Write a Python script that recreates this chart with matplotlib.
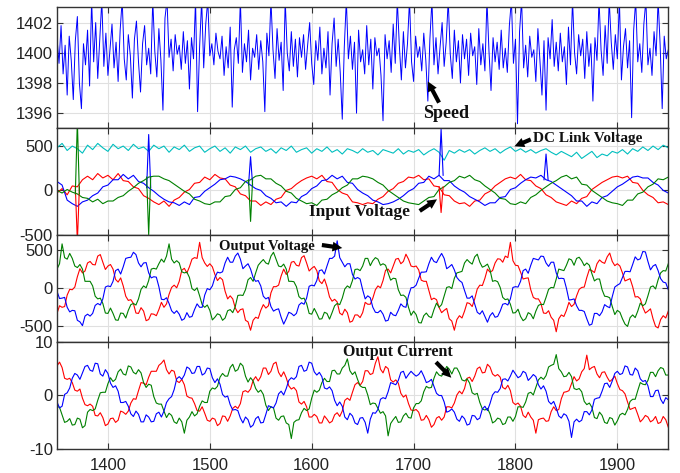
import numpy as np
import matplotlib.pyplot as plt

# ---------------- data ----------------
T0, STEP_SPEED, STEP_IN, STEP_OUT = 1350, 2, 5, 2.5

speed = [1401.0, 1399.3, 1401.8, 1398.6, 1400.5, 1397.2, 1401.1, 1399.5, 1396.9, 1400.8, 1402.4, 1398.0, 1396.3, 1400.6, 1399.2, 1401.5, 1397.8, 1403.5, 1399.4, 1402.0,
         1398.3, 1400.9, 1403.5, 1399.1, 1401.3, 1398.5, 1400.2, 1401.9, 1399.0, 1400.7, 1398.1, 1401.5, 1403.5, 1399.6, 1398.2, 1401.2, 1399.8, 1397.0, 1400.9, 1402.1,
         1399.4, 1397.4, 1400.6, 1401.8, 1399.2, 1400.3, 1398.6, 1403.5, 1400.1, 1398.4, 1401.6, 1399.5, 1396.2, 1402.3, 1403.5, 1399.7, 1400.9, 1398.8, 1401.2, 1399.9,
         1400.5, 1398.9, 1401.4, 1399.3, 1400.8, 1397.6, 1401.0, 1399.6, 1403.5, 1396.1, 1400.4, 1403.5, 1399.0, 1401.9, 1403.5, 1399.8, 1400.6, 1399.2, 1401.3, 1400.1,
         1399.6, 1401.1, 1398.5, 1400.4, 1399.0, 1401.7, 1396.4, 1400.2, 1401.0, 1399.3, 1403.5, 1398.7, 1400.6, 1399.4, 1401.5, 1398.2, 1400.3, 1399.7, 1401.2, 1398.9,
         1400.8, 1399.4, 1396.1, 1401.3, 1399.8, 1403.5, 1400.2, 1398.3, 1401.6, 1399.5, 1400.7, 1397.5, 1403.5, 1400.0, 1398.8, 1401.4, 1399.1, 1400.9, 1398.4, 1401.0,
         1399.7, 1401.2, 1398.9, 1400.5, 1402.0, 1399.3, 1397.9, 1400.8, 1399.5, 1401.7, 1398.6, 1400.3, 1399.0, 1401.4, 1397.2, 1400.6, 1402.3, 1399.1, 1400.9, 1398.7,
         1395.6, 1400.4, 1403.5, 1399.6, 1401.1, 1398.9, 1400.7, 1396.0, 1401.5, 1399.4, 1400.2, 1398.6, 1401.8, 1399.2, 1400.9, 1397.6, 1401.0, 1399.8, 1400.3, 1398.5,
         1395.5, 1401.2, 1399.6, 1400.8, 1398.7, 1401.9, 1399.3, 1403.5, 1400.5, 1398.2, 1401.4, 1399.0, 1400.6, 1403.5, 1399.4, 1398.1, 1401.1, 1399.7, 1400.4, 1398.8,
         1401.3, 1399.5, 1396.8, 1400.9, 1403.5, 1399.2, 1401.0, 1398.6, 1400.4, 1402.0, 1399.1, 1400.7, 1403.5, 1399.9, 1398.3, 1401.5, 1399.4, 1400.8, 1398.0, 1401.2,
         1399.6, 1400.9, 1398.5, 1401.3, 1399.8, 1400.4, 1397.9, 1401.6, 1399.2, 1400.6, 1398.8, 1403.5, 1400.1, 1397.5, 1401.0, 1399.4, 1400.7, 1398.9, 1401.5, 1399.0,
         1400.3, 1398.7, 1401.8, 1403.5, 1399.3, 1400.9, 1395.3, 1401.4, 1403.5, 1399.0, 1400.5, 1398.4, 1401.1, 1399.7, 1400.2, 1398.1, 1401.6, 1399.5, 1397.2, 1400.8,
         1396.2, 1401.0, 1399.6, 1402.2, 1399.1, 1400.7, 1398.8, 1401.3, 1399.4, 1400.4, 1397.9, 1401.7, 1399.2, 1403.5, 1400.0, 1398.6, 1401.2, 1399.8, 1400.9, 1398.3,
         1401.4, 1399.1, 1400.6, 1396.8, 1401.0, 1399.5, 1403.5, 1400.2, 1398.5, 1401.8, 1399.3, 1403.5, 1400.7, 1398.9, 1401.2, 1399.6, 1403.5, 1398.2, 1400.4, 1401.6,
         1399.0, 1400.8, 1395.7, 1401.5, 1403.5, 1399.4, 1400.6, 1398.7, 1401.9, 1403.5, 1399.2, 1400.3, 1398.5, 1401.4, 1399.8, 1403.5, 1400.5, 1396.3, 1401.1, 1399.6,
         1400.2]

dc_link = [480, 530, 450, 500, 470, 420, 510, 460, 530, 480, 440, 520, 470, 500, 450, 520, 470, 490, 440, 510,
           470, 500, 430, 490, 460, 510, 440, 480, 500, 430, 470, 500, 440, 480, 420, 490, 460, 500, 430, 470,
           490, 440, 470, 420, 480, 450, 500, 430, 460, 480, 420, 470, 440, 490, 430, 460, 410, 470, 450, 420,
           470, 430, 450, 400, 460, 440, 420, 470, 410, 450, 430, 460, 400, 440, 470, 430, 340, 450, 420, 460,
           430, 460, 410, 450, 480, 440, 470, 420, 460, 490, 440, 470, 430, 460, 420, 450, 470, 430, 400, 440,
           410, 380, 430, 360, 400, 440, 370, 410, 390, 440, 420, 460, 410, 470, 440, 490, 450, 500, 460, 510,
           480]

vin_a = [-30, 20, -50, 50, 40, 120, 160, 120, 190, 140, 170, 120, 190, 110, 100, 40, 20, -60, -90, -130,
         -160, -120, -180, -110, -80, -20, 10, 80, 90, 150, 120, 180, 140, 130, 60, 40, -40, -60, -120, -120,
         -170, -130, -160, -100, -80, 0, 20, 70, 110, 140, 160, 130, 170, 100, 90, 10, -30, -50, -130, -140,
         -160, -140, -150, -100, -70, -10, 20, 80, 100, 150, 140, 170, 120, 130, 50, 40, -50, -60, -120, -150,
         -140, -180, -120, -110, -40, -10, 50, 90, 130, 150, 130, 180, 120, 110, 50, 20, -50, -80, -130, -150,
         -170, -120, -150, -90, -70, 10, 50, 90, 120, 150, 160, 140, 160, 90, 80, 0, -50, -80, -140, -130,
         -160]
vin_b = [100, 60, -110, -150, -180, -130, -110, -60, -30, 40, 60, 120, 120, 180, 130, 170, 100, 80, 30, -10,
         -60, -100, -130, -140, -170, -130, -160, -80, -70, -10, 30, 70, 120, 130, 160, 150, 130, 100, 60, 20,
         0, -60, -90, -140, -130, -180, -130, -140, -70, -40, 20, 50, 110, 120, 170, 130, 160, 90, 80, 10,
         -30, -60, -110, -130, -160, -150, -130, -100, -60, -10, 20, 80, 90, 160, 130, 170, 110, 110, 50, 10,
         -20, -70, -100, -130, -170, -140, -140, -80, -70, 10, 30, 80, 120, 150, 140, 170, 120, 100, 60, 20,
         -20, -60, -120, -120, -180, -130, -150, -80, -60, -10, 40, 70, 110, 150, 160, 140, 140, 90, 60, 0,
         -30]
vin_c = [0, -30, 10, -20, -40, -80, -90, -130, -100, -150, -120, -120, -80, -60, -10, 30, 80, 110, 150, 160,
         160, 130, 110, 70, 30, -10, -40, -100, -120, -150, -160, -130, -130, -70, -60, 10, 30, 100, 120, 160,
         170, 130, 130, 80, 50, -10, -30, -90, -120, -150, -140, -170, -110, -100, -50, -20, 30, 60, 130, 130,
         160, 150, 130, 90, 60, 0, -40, -80, -120, -140, -150, -160, -120, -80, -70, 10, 40, 90, 110, 160,
         140, 170, 120, 100, 50, 10, -30, -90, -100, -150, -160, -130, -150, -80, -50, 0, 40, 80, 110, 150,
         170, 130, 150, 70, 60, 0, -40, -80, -120, -140, -150, -170, -110, -110, -40, -20, 40, 70, 130, 120,
         150]

# narrow transient spikes in the input-voltage panel: time, base level, peak
spike_a_t, spike_a_base, spike_a_peak = [1370, 1727], [40, 40], [-580, -250]
spike_b_t, spike_b_base, spike_b_peak = [1440, 1540, 1727, 1830], [30, 60, 170, 120], [630, 380, 690, 410]
spike_c_t, spike_c_base, spike_c_peak = [1370, 1440, 1540], [-40, 150, 120], [780, -500, -350]

vout_a = [-330, -230, -250, -240, -90, -15, -20, 15, 150, 255, 200, 225, 330, 350, 310, 305, 420, 440, 340, 245, 290, 310, 250, 115, 80, 135, 30, -105, -160, -150, -200, -325, -330, -255, -300, -425, -410, -335, -340, -360,
          -280, -185, -250, -205, -80, 10, 40, 5, 90, 235, 260, 200, 280, 380, 400, 390, 600, 400, 330, 285, 320, 280, 180, 100, 140, 110, -40, -140, -100, -140, -260, -320, -280, -270, -420, -440, -550, -420, -380, -395,
          -290, -215, -260, -230, -60, 20, 20, 40, 160, 250, 180, 220, 340, 350, 300, 290, 400, 425, 330, 225, 260, 285, 230, 95, 60, 120, 20, -115, -170, -145, -180, -325, -350, -275, -320, -445, -430, -350, -350, -385,
          -320, -185, -210, -210, -130, -20, 30, 5, 100, 235, 250, 200, 290, 380, 390, 320, 350, 445, 380, 290, 280, 290, 240, 105, 90, 90, -30, -150, -130, -150, -250, -320, -290, -265, -400, -430, -550, -410, -360, -390,
          -300, -190, -200, -240, -140, -10, 40, 35, 130, 250, 210, 230, 330, 385, 380, 340, 420, 400, 600, 360, 300, 295, 210, 120, 130, 135, -20, -120, -140, -140, -200, -325, -330, -295, -380, -420, -570, -400, -350, -370,
          -290, -185, -240, -210, -100, -15, 10, 15, 140, 245, 230, 205, 320, 370, 340, 325, 410, 460, 350, 295, 320, 290, 200, 95, 110, 125, 20, -115, -110, -140, -250, -325, -300, -270, -400, -500, -520, -410, -360, -390,
          -300]
vout_b = [-40, -135, -130, -120, -250, -310, -290, -295, -420, -440, -490, -365, -340, -365, -330, -225, -200, -220, -140, 15, 30, 20, 90, 230, 250, 185, 280, 390, 400, 405, 470, 440, 330, 280, 330, 335, 200, 135, 150, 145,
          20, -145, -150, -125, -200, -295, -330, -295, -340, -420, -400, -320, -380, -370, -280, -205, -250, -250, -90, -5, -20, 30, 140, 210, 200, 215, 330, 405, 340, 340, 420, 460, 380, 255, 290, 320, 250, 140, 90, 100,
          30, -105, -140, -120, -240, -300, -280, -270, -380, -470, -400, -315, -330, -360, -330, -220, -190, -210, -130, 25, 40, 30, 100, 230, 240, 185, 290, 390, 390, 420, 620, 400, 340, 280, 320, 320, 180, 120, 140, 120,
          -20, -140, -100, -125, -250, -315, -320, -290, -340, -430, -420, -315, -350, -360, -290, -205, -240, -250, -100, 5, 10, 40, 130, 210, 210, 215, 320, 405, 350, 335, 400, 455, 390, 255, 280, 310, 240, 140, 100, 75,
          -30, -130, -130, -100, -210, -315, -340, -295, -370, -445, -360, -320, -380, -370, -300, -210, -200, -220, -140, 10, 20, 15, 90, 230, 250, 195, 300, 390, 380, 370, 420, 415, 330, 285, 340, 340, 200, 125, 130, 125,
          0, -155, -150, -140, -230, -290, -290, -305, -400, -485, -470, -330, -330, -360, -310, -215, -240, -255, -110, 15, 40, 60, 140, 220, 220, 215, 310, 410, 370, 385, 480, 475, 350, 240, 290, 310, 230, 125, 80, 70,
          -20]
vout_c = [250, 320, 580, 400, 380, 455, 390, 290, 270, 310, 250, 90, 90, 90, 30, -105, -140, -130, -200, -325, -330, -260, -330, -415, -420, -325, -330, -390, -290, -215, -200, -220, -140, -15, 30, 5, 100, 250, 260, 250,
          320, 380, 340, 420, 580, 380, 330, 360, 330, 215, 200, 210, 140, -5, -30, 5, -100, -215, -250, -220, -290, -415, -380, -335, -350, -420, -390, -295, -280, -320, -240, -95, -90, -95, -20, 110, 140, 90, 200, 300,
          340, 375, 330, 315, 420, 470, 380, 290, 280, 315, 250, 90, 90, 85, 20, -110, -140, -130, -200, -330, -340, -265, -330, -405, -400, -315, -330, -405, -320, -230, -200, -215, -130, -10, 30, 5, 100, 245, 250, 230,
          290, 390, 390, 295, 360, 400, 380, 300, 320, 300, 200, 105, 130, 125, -20, -95, -90, -120, -250, -355, -300, -345, -450, -455, -360, -325, -370, -385, -280, -195, -250, -215, -100, 10, 20, -5, 130, 200, 210, 220,
          330, 375, 340, 315, 410, 445, 340, 275, 290, 315, 240, 90, 100, 85, 10, -120, -150, -140, -210, -325, -320, -275, -370, -425, -400, -320, -340, -400, -300, -225, -210, -215, -120, -15, 10, 5, 120, 250, 240, 230,
          300, 385, 370, 300, 390, 405, 360, 295, 330, 300, 190, 95, 120, 120, -20, -105, -110, -125, -240, -345, -290, -315, -400, -470, -500, -385, -350, -385, -300, -195, -230, -205, -100, 15, 30, -10, 110, 200, 230, 225,
          320]

iout_a = [5.5, 6.2, 5.2, 3.2, 3.0, 3.2, 2.4, 1.0, 0.8, 1.2, -0.5, -1.7, -1.9, -1.6, -2.0, -3.7, -3.8, -3.2, -4.1, -5.6,
          -5.3, -4.3, -4.2, -5.0, -4.6, -2.9, -3.1, -3.5, -2.9, -1.4, -0.6, -0.7, 0.9, 2.4, 2.3, 2.0, 3.4, 4.5, 4.5, 4.5,
          5.6, 6.0, 6.6, 4.8, 4.0, 4.7, 4.5, 2.7, 2.4, 3.0, 2.0, -0.1, -0.4, -0.5, -1.5, -2.8, -2.9, -2.1, -3.3, -4.6,
          -4.8, -4.2, -4.4, -5.6, -5.2, -3.8, -3.9, -4.8, -3.8, -2.4, -2.0, -2.4, -1.5, 0.7, 0.9, 0.6, 1.2, 2.8, 3.5, 2.7,
          3.5, 5.1, 5.1, 3.9, 4.5, 5.9, 6.2, 4.3, 3.5, 4.4, 3.3, 1.8, 1.2, 1.5, 0.9, -1.2, -1.6, -1.1, -2.1, -4.0,
          -4.0, -3.5, -3.9, -5.1, -5.1, -3.8, -4.4, -5.1, -4.8, -3.6, -3.2, -3.9, -2.9, -0.9, -0.5, -0.9, 0.6, 2.0, 2.4, 1.9,
          2.6, 4.6, 4.6, 3.9, 4.1, 6.0, 7.2, 4.9, 4.2, 5.4, 5.0, 2.9, 2.5, 2.9, 2.3, 0.4, -0.3, 0.1, -1.5, -2.7,
          -2.8, -2.6, -3.1, -4.6, -4.5, -3.7, -4.5, -5.9, -5.4, -4.2, -3.9, -4.6, -4.0, -2.1, -2.1, -2.3, -1.4, 0.1, 0.8, 0.3,
          1.3, 3.2, 3.4, 2.6, 3.6, 5.0, 5.3, 4.2, 4.3, 5.8, 5.3, 4.0, 3.6, 3.9, 3.4, 1.5, 1.2, 1.9, 0.9, -1.3,
          -1.7, -1.4, -2.0, -3.7, -4.1, -3.1, -4.0, -4.6, -7.0, -4.5, -4.3, -4.2, -4.8, -4.7, -3.0, -2.1, -2.8, -2.6, -0.6, 0.6,
          0.7, 0.9, 2.2, 3.5, 2.7, 3.1, 4.4, 5.0, 7.5, 4.8, 5.2, 5.4, 4.0, 3.3, 4.3, 4.4, 3.4, 2.6, 3.0, 3.6,
          2.2, 1.1, 0.9, 0.3, -1.2, -2.6, -2.4, -2.2, -3.5, -4.9, -4.4, -3.7, -4.0, -4.9, -4.6, -3.9, -5.2, -5.0, -3.9, -4.5,
          -5.9]
iout_b = [-1.2, -2.3, -2.0, 0.2, 0.5, 1.4, 3.2, 4.1, 3.8, 3.0, 4.2, 5.4, 5.6, 4.7, 4.5, 6.0, 5.9, 4.0, 3.6, 4.8,
          4.1, 2.3, 1.5, 1.8, 0.8, -1.3, -1.3, -1.1, -2.0, -3.4, -3.9, -2.9, -3.5, -4.9, -4.9, -3.6, -4.0, -4.9, -4.8, -3.4,
          -3.1, -4.0, -2.9, -1.3, -0.6, -0.2, 1.1, 3.1, 3.5, 3.0, 3.8, 5.3, 5.0, 4.1, 4.2, 5.4, 5.4, 3.8, 4.1, 5.1,
          5.0, 3.3, 2.4, 3.1, 2.1, 0.2, -0.3, -0.1, -1.7, -2.7, -2.6, -2.8, -4.2, -5.1, -4.0, -4.5, -5.9, -5.5, -4.3, -3.9,
          -5.1, -5.0, -3.5, -1.9, -2.1, -2.3, -1.4, 0.3, 0.8, 0.1, 1.3, 2.8, 3.3, 3.0, 3.5, 5.4, 5.6, 4.5, 4.7, 6.2,
          6.0, 4.4, 3.8, 4.3, 3.5, 1.4, 1.2, 1.6, 0.9, -0.9, -1.9, -1.2, -2.0, -4.0, -4.5, -3.3, -3.8, -5.1, -5.4, -4.2,
          -4.1, -5.0, -7.0, -4.4, -3.2, -3.3, -2.6, -0.7, -0.4, -0.6, 0.7, 2.4, 2.2, 2.0, 2.8, 4.3, 4.5, 3.2, 3.9, 4.5,
          4.0, 3.6, 3.9, 4.6, 3.6, 2.4, 2.6, 3.0, 1.7, 0.4, 0.0, 0.0, -1.2, -3.1, -2.9, -2.5, -3.1, -4.4, -4.8, -3.8,
          -4.3, -5.5, -5.3, -3.7, -3.8, -4.5, -4.2, -2.5, -2.0, -2.8, -1.5, 0.1, 0.7, 0.6, 1.3, 3.0, 3.1, 2.7, 3.6, 4.7,
          4.0, 3.3, 3.6, 4.5, 4.2, 2.8, 3.3, 3.9, 3.5, 2.0, 1.2, 1.8, 0.8, -1.1, -1.6, -1.1, -2.3, -3.8, -4.2, -3.4,
          -3.7, -4.8, -7.8, -4.9, -4.4, -4.9, -4.6, -3.0, -3.0, -3.6, -2.7, -0.7, -0.5, -0.4, 0.8, 2.2, 2.3, 1.5, 2.7, 4.1,
          4.5, 3.9, 4.1, 5.5, 5.3, 3.9, 3.8, 5.1, 4.6, 3.1, 2.6, 2.8, 1.8, -0.2, -0.2, 0.9, 1.0, -0.7, -1.5, -0.4,
          -0.8]
iout_c = [-2.0, -2.2, -3.6, -5.0, -4.8, -4.3, -5.5, -5.4, -4.2, -4.4, -6.0, -5.6, -3.1, -2.6, -2.8, -2.5, -0.9, 0.5, 0.6, 0.6,
          2.2, 3.3, 2.6, 3.0, 4.4, 4.9, 4.0, 3.8, 5.5, 5.3, 4.3, 4.0, 4.8, 4.2, 2.4, 1.5, 2.1, 1.9, -0.2, -1.4,
          -1.6, -1.6, -2.9, -4.1, -3.3, -3.7, -4.9, -5.2, -4.2, -4.9, -7.0, -4.6, -4.0, -3.0, -3.8, -3.4, -2.0, -1.0, -1.3, -1.3,
          0.8, 1.4, 1.2, 1.7, 3.4, 4.1, 3.6, 3.6, 5.2, 5.8, 4.5, 4.8, 6.0, 5.5, 3.6, 2.5, 3.3, 2.7, 1.3, 0.6,
          1.0, 0.2, -1.8, -2.8, -2.1, -2.3, -4.2, -4.6, -3.9, -3.8, -5.1, -5.4, -8.0, -5.0, -4.6, -4.5, -3.2, -2.4, -2.8, -2.5,
          -0.5, 1.0, 0.6, 1.0, 2.4, 3.2, 2.6, 2.6, 4.6, 4.7, 4.0, 4.0, 5.1, 5.6, 6.8, 4.6, 3.9, 4.4, 3.0, 1.8,
          1.5, 1.5, 0.1, -1.7, -1.4, -1.5, -2.4, -3.3, -3.0, -3.8, -7.5, -5.2, -4.5, -3.9, -5.0, -4.9, -3.8, -3.3, -4.1, -4.2,
          -2.3, -1.5, -1.5, -1.0, 0.7, 1.7, 1.4, 1.5, 3.2, 4.4, 3.8, 3.6, 4.4, 5.4, 4.9, 4.0, 5.1, 5.1, 4.2, 2.9,
          2.7, 3.1, 2.3, 0.5, 0.2, 0.4, -1.3, -2.5, -2.7, -2.4, -3.4, -5.1, -4.8, -4.2, -4.4, -5.4, -5.2, -4.0, -4.0, -4.8,
          -3.9, -2.1, -2.1, -2.2, -1.2, 0.4, 0.6, 0.1, 1.5, 2.9, 3.4, 3.0, 3.7, 5.3, 5.6, 5.8, 7.6, 5.0, 4.4, 3.5,
          3.6, 4.3, 3.5, 1.3, 1.1, 1.3, 0.7, -1.1, -1.7, -1.4, -2.2, -4.1, -4.3, -3.1, -3.7, -5.0, -5.2, -4.1, -4.3, -5.5,
          -4.7, -3.6, -3.3, -3.6, -2.6, -1.1, -0.7, -0.7, 0.9, 2.4, 2.1, 2.0, 2.8, 4.3, 4.3, 3.5, 4.6, 5.2, 5.0, 3.8,
          3.8]

xticks = [1400, 1500, 1600, 1700, 1800, 1900]

# ---------------- styling ----------------
BLUE, GREEN, RED, CYAN = '#0000ff', '#008000', '#ff0000', '#00bfbf'
plt.rcParams['font.family'] = ['Liberation Sans', 'DejaVu Sans']
plt.rcParams['axes.unicode_minus'] = False

fig = plt.figure(figsize=(6.8, 4.73), dpi=100)
left, width = 0.0838, 0.899
boxes = [(0.7288, 0.2554), (0.5038, 0.2249), (0.2776, 0.2262), (0.0501, 0.2275)]
axes = [fig.add_axes([left, b, width, h]) for b, h in boxes]

t_speed = T0 + STEP_SPEED * np.arange(len(speed))
t_in = T0 + STEP_IN * np.arange(len(dc_link))
t_out = T0 + STEP_OUT * np.arange(len(vout_a))

lw = 0.8
a1, a2, a3, a4 = axes
a1.plot(t_speed, speed, color=BLUE, lw=0.7)
a2.plot(t_in, dc_link, color=CYAN, lw=lw)
a2.plot(t_in, vin_a, color=RED, lw=lw)
a2.plot(t_in, vin_b, color=BLUE, lw=lw)
a2.plot(t_in, vin_c, color=GREEN, lw=lw)
for ts, bs, ps, col in [(spike_a_t, spike_a_base, spike_a_peak, RED),
                        (spike_b_t, spike_b_base, spike_b_peak, BLUE),
                        (spike_c_t, spike_c_base, spike_c_peak, GREEN)]:
    for ti, bi, pi in zip(ts, bs, ps):
        a2.plot([ti - 2, ti, ti + 2], [bi, pi, bi], color=col, lw=lw)
a3.plot(t_out, vout_a, color=RED, lw=lw)
a3.plot(t_out, vout_c, color=GREEN, lw=lw)
a3.plot(t_out, vout_b, color=BLUE, lw=lw)
a4.plot(t_out, iout_a, color=RED, lw=lw)
a4.plot(t_out, iout_c, color=GREEN, lw=lw)
a4.plot(t_out, iout_b, color=BLUE, lw=lw)

ylims = [(1395, 1403), (-500, 700), (-700, 700), (-10, 10)]
yticks = [[1396, 1398, 1400, 1402], [-500, 0, 500], [-500, 0, 500], [-10, 0, 10]]
for ax, yl, yt in zip(axes, ylims, yticks):
    ax.set_xlim(1350, 1950)
    ax.set_ylim(*yl)
    ax.set_xticks(xticks)
    ax.set_yticks(yt)
    ax.grid(True, color='#e0e0e0', lw=0.8)
    ax.set_axisbelow(True)
    ax.tick_params(direction='in', top=True, right=True, length=4, width=0.8,
                   color='#333333', labelsize=12, labelcolor='#222222', pad=3)
    for s in ax.spines.values():
        s.set_color('#333333')
        s.set_linewidth(1.0)
    if ax is not a4:
        ax.set_xticklabels([])
a4.tick_params(axis='x', pad=6)

# ---------------- annotations ----------------
tfont = dict(family=['Liberation Serif', 'DejaVu Serif'], weight='bold', color='#111111')
arr = dict(arrowstyle='simple,head_width=0.7,head_length=0.7,tail_width=0.3',
           color='black', lw=0, shrinkA=0, shrinkB=0)

a1.text(1732, 1396.0, 'Speed', ha='center', va='center', fontsize=13, **tfont)
a1.annotate('', xy=(1714, 1398.1), xytext=(1725, 1396.7), arrowprops=arr)

a2.text(1817, 590, 'DC Link Voltage', ha='left', va='center', fontsize=11, **tfont)
a2.annotate('', xy=(1799, 497), xytext=(1815, 575), arrowprops=arr)

a2.text(1647, -242, 'Input Voltage', ha='center', va='center', fontsize=12.5, **tfont)
a2.annotate('', xy=(1723, -101), xytext=(1706, -232), arrowprops=arr)

a3.text(1556, 552, 'Output Voltage', ha='center', va='center', fontsize=10.5, **tfont)
a3.annotate('', xy=(1630, 526), xytext=(1610, 565), arrowprops=arr)

a4.text(1685, 8.1, 'Output Current', ha='center', va='center', fontsize=11.5, **tfont)
a4.annotate('', xy=(1737, 3.3), xytext=(1722, 6.2), arrowprops=arr)

fig.savefig('out.png', dpi=100)
